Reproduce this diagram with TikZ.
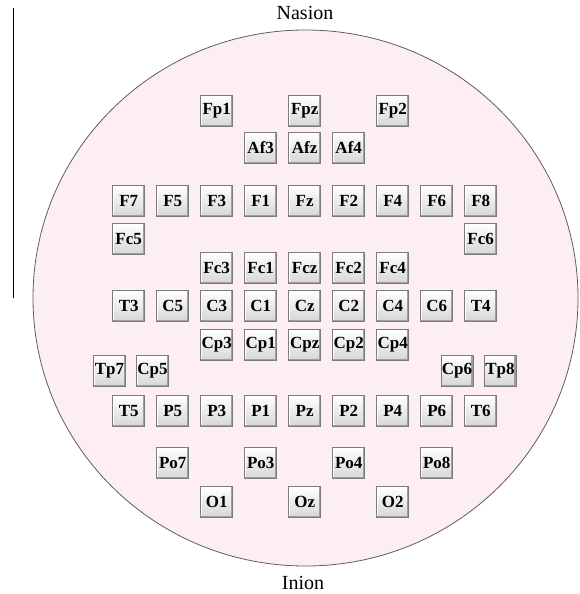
\documentclass[tikz,border=0pt]{standalone}
\usepackage{fontspec}
\setmainfont{Liberation Serif}
\definecolor{headfill}{HTML}{FDEEF2}
\definecolor{headline}{HTML}{5E5E5E}
\definecolor{btnedge}{HTML}{7C7C7C}
\definecolor{btnshade}{HTML}{D6D6D6}
\definecolor{btnshadow}{HTML}{9E9E9E}

\begin{document}
\begin{tikzpicture}[
  x=1pt, y=-1pt,
  electrode/.style={draw=btnedge, line width=0.7pt, top color=white,
    bottom color=btnshade, minimum width=32pt, minimum height=31pt,
    inner sep=0pt, font=\bfseries\fontsize{17}{18}\selectfont,
    path picture={
      \draw[white, line width=3pt] (path picture bounding box.south west)
        |- (path picture bounding box.north east);
      \draw[btnshadow, line width=3pt] (path picture bounding box.south west)
        -| (path picture bounding box.north east);}},
  landmark/.style={font=\fontsize{20}{22}\selectfont, inner sep=0pt},
  scalebar/.style={line width=1pt, draw=black}
]
\useasboundingbox (0,0) rectangle (580,594);
\draw[headline, fill=headfill, line width=0.8pt] (305.5,298)
  ellipse [x radius=272.5pt, y radius=268pt];
\node[landmark, anchor=base] (nasion) at (305,20) {Nasion};
\node[landmark, anchor=base] (inion) at (303,589) {Inion};
\coordinate (bartop) at (13,8);
\coordinate (barbot) at (13,298);
\draw[scalebar] (bartop) -- (barbot);
% frontal pole
\foreach \lbl/\px in {Fp1/216.7, Fpz/304.7, Fp2/392.7}
  \node[electrode] (\lbl) at (\px,111) {\lbl};
\foreach \lbl/\px in {Af3/260.7, Afz/304.7, Af4/348.7}
  \node[electrode] (\lbl) at (\px,148) {\lbl};
\foreach \lbl/\px in {F7/128.7, F5/172.7, F3/216.7, F1/260.7, Fz/304.7,
    F2/348.7, F4/392.7, F6/436.7, F8/480.7}
  \node[electrode] (\lbl) at (\px,201) {\lbl};
\node[electrode] (Fc5) at (128.7,239) {Fc5};
\node[electrode] (Fc6) at (480.7,239) {Fc6};
\foreach \lbl/\px in {Fc3/216.7, Fc1/260.7, Fcz/304.7, Fc2/348.7, Fc4/392.7}
  \node[electrode] (\lbl) at (\px,268) {\lbl};
% central line
\foreach \lbl/\px in {T3/128.7, C5/172.7, C3/216.7, C1/260.7, Cz/304.7,
    C2/348.7, C4/392.7, C6/436.7, T4/480.7}
  \node[electrode] (\lbl) at (\px,306) {\lbl};
\foreach \lbl/\px in {Cp3/216.7, Cp1/260.7, Cpz/304.7, Cp2/348.7, Cp4/392.7}
  \node[electrode] (\lbl) at (\px,345) {\lbl};
\foreach \lbl/\px in {Tp7/109.5, Cp5/152.5, Cp6/456.9, Tp8/499.9}
  \node[electrode] (\lbl) at (\px,371) {\lbl};
% parietal and occipital
\foreach \lbl/\px in {T5/128.7, P5/172.7, P3/216.7, P1/260.7, Pz/304.7,
    P2/348.7, P4/392.7, P6/436.7, T6/480.7}
  \node[electrode] (\lbl) at (\px,411) {\lbl};
\foreach \lbl/\px in {Po7/172.7, Po3/260.7, Po4/348.7, Po8/436.7}
  \node[electrode] (\lbl) at (\px,463) {\lbl};
\foreach \lbl/\px in {O1/216.7, Oz/304.7, O2/392.7}
  \node[electrode] (\lbl) at (\px,502) {\lbl};
\end{tikzpicture}
\end{document}
